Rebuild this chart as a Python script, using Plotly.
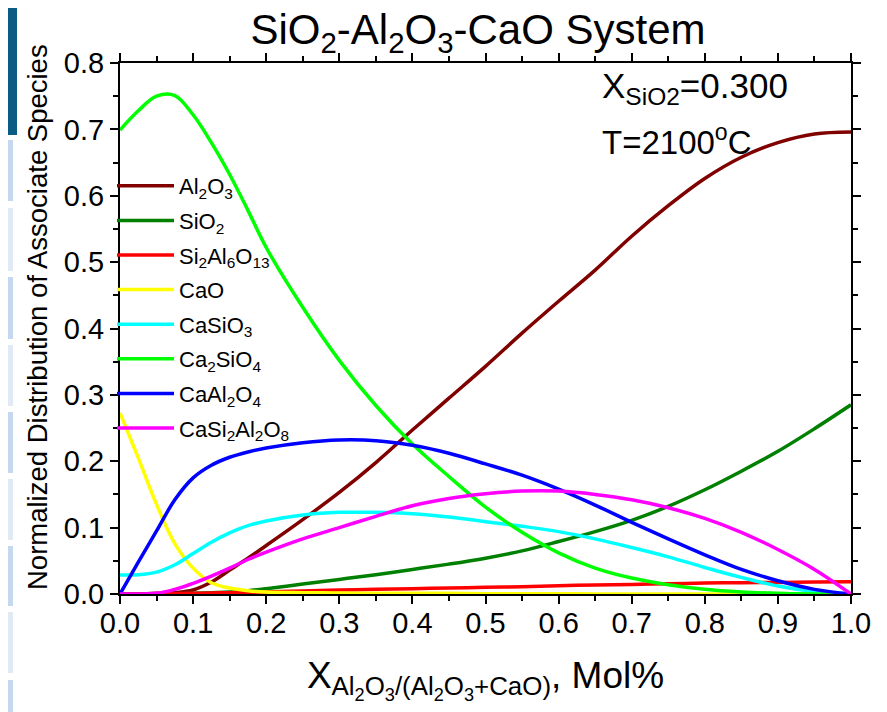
import plotly.graph_objects as go

# ---- data ----
x_frac = [0, 0.025, 0.05, 0.075, 0.1, 0.125, 0.15, 0.175, 0.2, 0.25, 0.3, 0.35, 0.4,
          0.45, 0.5, 0.55, 0.6, 0.65, 0.7, 0.75, 0.8, 0.85, 0.9, 0.95, 1.0]

al2o3 = [0, 0.0, 0.001, 0.002, 0.006, 0.018, 0.036, 0.054, 0.073, 0.112, 0.153, 0.198, 0.247,
         0.295, 0.343, 0.393, 0.441, 0.488, 0.539, 0.585, 0.626, 0.658, 0.680, 0.693, 0.696]
sio2 = [0, 0, 0, 0, 0.001, 0.002, 0.003, 0.005, 0.008, 0.015, 0.022, 0.029, 0.037,
        0.045, 0.054, 0.065, 0.079, 0.094, 0.111, 0.132, 0.157, 0.185, 0.215, 0.249, 0.285]
si2al6o13 = [0, 0, 0, 0.0005, 0.001, 0.0015, 0.002, 0.0025, 0.003, 0.0045, 0.006, 0.007, 0.008,
             0.009, 0.010, 0.011, 0.0125, 0.0135, 0.0145, 0.0155, 0.0165, 0.017, 0.0175, 0.018, 0.0185]
cao = [0.273, 0.205, 0.135, 0.076, 0.039, 0.017, 0.009, 0.005, 0.003, 0.002, 0.0015, 0.001, 0.001,
       0.001, 0.0005, 0.0005, 0.0005, 0, 0, 0, 0, 0, 0, 0, 0]
casio3 = [0.0286, 0.029, 0.033, 0.044, 0.061, 0.078, 0.092, 0.103, 0.110, 0.119, 0.123, 0.123, 0.121,
          0.116, 0.109, 0.102, 0.094, 0.083, 0.070, 0.056, 0.040, 0.025, 0.012, 0.004, 0.0]
ca2sio4 = [0.699, 0.728, 0.750, 0.751, 0.722, 0.680, 0.632, 0.578, 0.522, 0.432, 0.352, 0.284, 0.226,
           0.177, 0.131, 0.093, 0.062, 0.039, 0.024, 0.014, 0.007, 0.003, 0.001, 0.0, 0.0]
caal2o4 = [0, 0.048, 0.095, 0.142, 0.175, 0.194, 0.206, 0.214, 0.220, 0.228, 0.232, 0.231, 0.224,
           0.212, 0.196, 0.179, 0.158, 0.134, 0.108, 0.083, 0.059, 0.037, 0.020, 0.007, 0.0]
casi2al2o8 = [0, 0, 0.001, 0.007, 0.016, 0.027, 0.039, 0.052, 0.063, 0.083, 0.100, 0.117, 0.133,
              0.144, 0.151, 0.155, 0.155, 0.150, 0.142, 0.130, 0.114, 0.093, 0.067, 0.037, 0.0]

series_names = ["Al<sub>2</sub>O<sub>3</sub>", "SiO<sub>2</sub>",
                "Si<sub>2</sub>Al<sub>6</sub>O<sub>13</sub>", "CaO",
                "CaSiO<sub>3</sub>", "Ca<sub>2</sub>SiO<sub>4</sub>",
                "CaAl<sub>2</sub>O<sub>4</sub>", "CaSi<sub>2</sub>Al<sub>2</sub>O<sub>8</sub>"]
series_values = [al2o3, sio2, si2al6o13, cao, casio3, ca2sio4, caal2o4, casi2al2o8]
series_colors = ["#800000", "#008000", "#ff0000", "#ffff00",
                 "#00ffff", "#00ff00", "#0000ff", "#ff00ff"]

tick_vals_x = [0, 0.1, 0.2, 0.3, 0.4, 0.5, 0.6, 0.7, 0.8, 0.9, 1.0]
tick_vals_y = [0, 0.1, 0.2, 0.3, 0.4, 0.5, 0.6, 0.7, 0.8]

# page body has an 8px margin, so the figure is drawn from (8, 8)
OFF = 8
W, H = 887 - OFF, 712 - OFF
PL, PR, PT, PB = 120, 851, 63, 594          # plot-area edges in page pixels
L, T = PL - OFF, PT - OFF
R, B = W - (PR - OFF), H - (PB - OFF)
pw, ph = PR - PL, PB - PT

def px(xp):   # page x -> paper x
    return (xp - PL) / pw

def py(yp):   # page y -> paper y
    return (PB - yp) / ph

fig = go.Figure()
for i, (name, vals, col) in enumerate(zip(series_names, series_values, series_colors)):
    fig.add_trace(go.Scatter(
        x=x_frac, y=vals, mode="lines", name=name,
        line=dict(color=col, width=3.5, shape="spline", smoothing=1.0),
        legendgroup=f"g{i}",
    ))

arial = "Liberation Sans, Arial, sans-serif"

axis_common = dict(
    showline=True, linecolor="black", linewidth=2, mirror="allticks",
    ticks="outside", ticklen=8, tickwidth=2, tickcolor="black",
    showgrid=False, zeroline=False,
    tickfont=dict(family=arial, size=29, color="black"),
    minor=dict(ticks="outside", ticklen=5, tickwidth=1.5, tickcolor="black", dtick=0.05),
)

fig.update_xaxes(range=[0, 1], tickvals=tick_vals_x, tickformat=".1f", ticklabelstandoff=-6,
                 title=dict(text="X<sub>Al<sub>2</sub>O<sub>3</sub>/(Al<sub>2</sub>O<sub>3</sub>+CaO)</sub>, Mol%",
                            font=dict(family=arial, size=37, color="black"), standoff=24),
                 **axis_common)
fig.update_yaxes(range=[0, 0.8], tickvals=tick_vals_y, tickformat=".1f",
                 **axis_common)

# decorative slide strip on the left edge of the reference screenshot
shapes = [dict(type="rect", xref="paper", yref="paper", x0=px(0), x1=px(17), y0=py(135), y1=py(0),
               fillcolor="#0b5b84", line=dict(width=0), layer="below")]
boxes = [(140, 201), (208, 271), (277, 339), (345, 406), (412, 473), (479, 540), (546, 606), (612, 673), (680, 712)]
for k, (a, b) in enumerate(boxes):
    shapes.append(dict(type="rect", xref="paper", yref="paper", x0=px(0), x1=px(13), y0=py(b), y1=py(a),
                       fillcolor="#c6d8ef" if k % 2 == 0 else "#e1e9f5", line=dict(width=0), layer="below"))

fig.update_layout(
    width=W, height=H,
    margin=dict(l=L, r=R, t=T, b=B),
    paper_bgcolor="white", plot_bgcolor="white",
    title=dict(text="SiO<sub>2</sub>-Al<sub>2</sub>O<sub>3</sub>-CaO System",
               font=dict(family=arial, size=42, color="black"),
               x=(478 - OFF) / W, xanchor="center",
               y=1 - 21 / H, yanchor="middle", yref="container"),
    showlegend=True,
    legend=dict(x=px(112), y=py(165), xanchor="left", yanchor="top",
                bgcolor="rgba(0,0,0,0)", borderwidth=0,
                font=dict(family=arial, size=22, color="black"),
                tracegroupgap=3, itemwidth=57),
    shapes=shapes,
    annotations=[
        dict(text="Normalized Distribution of Associate Species", xref="paper", yref="paper",
             x=px(37), y=py(317), xanchor="center", yanchor="middle", textangle=-90,
             showarrow=False, font=dict(family=arial, size=27.5, color="black")),
        dict(text="X<sub>SiO2</sub>=0.300", xref="paper", yref="paper",
             x=px(600), y=py(88), xanchor="left", yanchor="middle", showarrow=False,
             font=dict(family=arial, size=35, color="black")),
        dict(text="T=2100<sup>o</sup>C", xref="paper", yref="paper",
             x=px(600), y=py(140), xanchor="left", yanchor="middle", showarrow=False,
             font=dict(family=arial, size=33, color="black")),
    ],
)

fig.write_html("out.html")
